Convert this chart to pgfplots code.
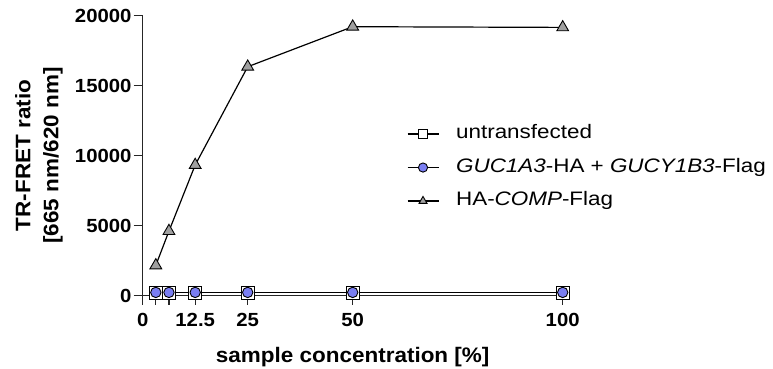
\documentclass[border=0pt]{standalone}
\usepackage{pgfplots}
\pgfplotsset{compat=1.18}
\usepackage{fontspec}
\setmainfont{Liberation Sans}[FakeStretch=1.07]
\newfontfamily\legfont{Liberation Sans}[FakeStretch=1.15]
\definecolor{cblue}{RGB}{122,126,242}
\definecolor{tgray}{RGB}{160,160,160}
\begin{document}
\begin{tikzpicture}
\begin{axis}[
  at={(0,0)}, anchor=south west,
  scale only axis, width=420pt, height=280pt,
  xmin=0, xmax=100, ymin=0, ymax=20000,
  scaled y ticks=false, scaled x ticks=false,
  axis lines=left, axis line style={-, line width=1.3pt, black!85},
  clip=false,
  xtick={0,3.125,6.25,12.5,25,50,100},
  xticklabels={0,,,12.5,25,50,100},
  ytick={0,5000,10000,15000,20000},
  yticklabels={0,5000,10000,15000,20000},
  tick align=outside, major tick length=9pt,
  tick style={line width=1.3pt, black!85},
  ticklabel style={font=\bfseries\fontsize{19}{19}\selectfont},
  xticklabel style={inner sep=0pt, yshift=-9pt},
  yticklabel style={inner sep=0pt, xshift=-2pt},
  xlabel={sample concentration [\%]},
  ylabel={TR-FRET ratio\\{[665 nm/620 nm]}},
  label style={font=\bfseries\fontsize{21}{28}\selectfont},
  xlabel style={at={(axis description cs:0.5,-0.2186)}, anchor=center},
  ylabel style={at={(axis description cs:-0.2469,0.5)}, anchor=center, align=center},
  legend style={at={(axis description cs:0.6286,0.457)}, anchor=west, draw=none, fill=none,
    inner sep=0pt, row sep=15pt,
    nodes={inner sep=0pt, text height=14pt, text depth=4.5pt, font=\legfont\fontsize{19.5}{19.5}\selectfont},
    /tikz/every odd column/.append style={column sep=17pt}},
  legend cell align=left,
  legend image code/.code={\draw[mark repeat=2, mark phase=2] plot coordinates {(0pt,0pt) (15.5pt,0pt) (31pt,0pt)};},
  legend image post style={mark size=4.6pt},
]
\addplot[black, line width=1.2pt, mark=square*, mark size=6.3pt,
  mark options={fill=white, draw=black, line width=0.9pt}]
  coordinates {(3.125,200) (6.25,200) (12.5,200) (25,200) (50,200) (100,200)};
\addlegendentry{untransfected}
\addplot[black, line width=1.2pt, mark=*, mark size=5.2pt,
  mark options={fill=cblue, draw=black, line width=0.9pt}]
  coordinates {(3.125,220) (6.25,220) (12.5,220) (25,220) (50,220) (100,220)};
\addlegendentry{\textit{GUC1A3}-HA + \textit{GUCY1B3}-Flag}
\addplot[black, line width=1.2pt, mark=triangle*, mark size=6.8pt,
  mark options={fill=tgray, draw=black, line width=0.9pt}]
  coordinates {(3.125,2150) (6.25,4600) (12.5,9320) (25,16340) (50,19200) (100,19150)};
\addlegendentry{HA-\textit{COMP}-Flag}
\end{axis}
\pgfresetboundingbox
\path[use as bounding box] (-142.7pt,-73.5pt) rectangle (630.3pt,295.5pt);
\end{tikzpicture}
\end{document}
